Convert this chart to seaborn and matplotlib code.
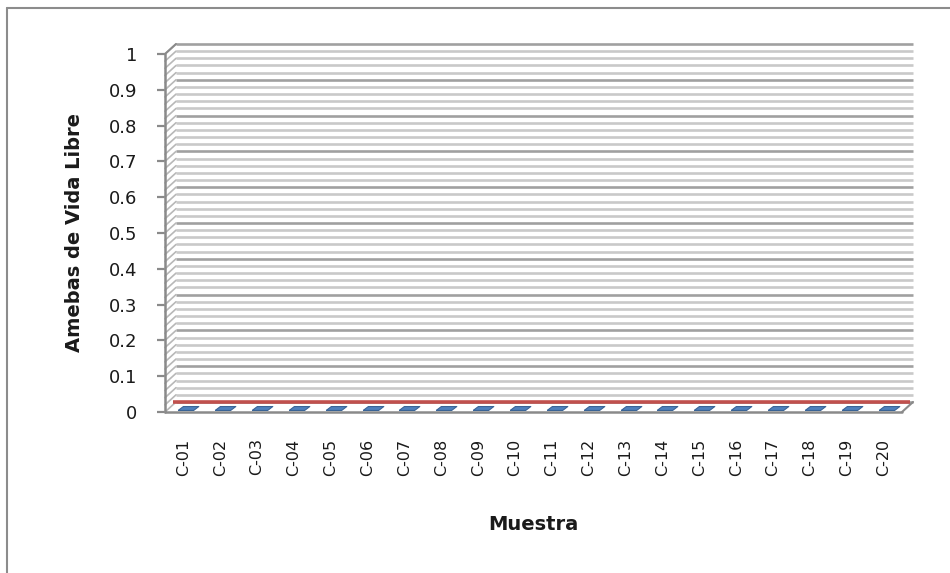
import matplotlib
matplotlib.use("Agg")
import matplotlib.pyplot as plt
from matplotlib.lines import Line2D
import numpy as np
import pandas as pd
import seaborn as sns

# Sample codes and measured free-living amoeba counts
muestras = ["C-01", "C-02", "C-03", "C-04", "C-05", "C-06", "C-07", "C-08", "C-09", "C-10",
            "C-11", "C-12", "C-13", "C-14", "C-15", "C-16", "C-17", "C-18", "C-19", "C-20"]
serie_frontal = [0, 0, 0, 0, 0, 0, 0, 0, 0, 0, 0, 0, 0, 0, 0, 0, 0, 0, 0, 0]
serie_fondo = [0, 0, 0, 0, 0, 0, 0, 0, 0, 0, 0, 0, 0, 0, 0, 0, 0, 0, 0, 0]
y_ticks = [0, 0.1, 0.2, 0.3, 0.4, 0.5, 0.6, 0.7, 0.8, 0.9, 1.0]
y_labels = ["0", "0.1", "0.2", "0.3", "0.4", "0.5", "0.6", "0.7", "0.8", "0.9", "1"]

df = pd.DataFrame({"Muestra": muestras, "frontal": serie_frontal, "fondo": serie_fondo})
df["pos"] = np.arange(len(df))

sns.set_theme(style="white")
plt.rcParams["font.family"] = ["DejaVu Sans"]

W, H = 950, 573
fig = plt.figure(figsize=(W / 100, H / 100), dpi=100)
x0, x1, y0, y1 = 165, 902, 412, 54
rect = [x0 / W, (H - y0) / H, (x1 - x0) / W, (y0 - y1) / H]
ax = fig.add_axes(rect)
n = len(muestras)
ax.set_xlim(-0.5, n - 0.5)
ax.set_ylim(0, 1)
for s in ax.spines.values():
    s.set_visible(False)

# depth of the 3D box, in data units (11 px right, 10 px up)
DX = 11 / ((x1 - x0) / n)
DY = 10 / (y0 - y1)
xl, xr = -0.5, n - 0.5

# back wall gridlines: minor every 0.02, major every 0.1
minor = np.round(np.arange(0, 1.0001, 0.02), 4)
for v in minor:
    major = abs(v * 10 - round(v * 10)) < 1e-6
    ax.add_line(Line2D([xl + DX, xr + DX], [v + DY, v + DY],
                       color="#a0a0a0" if major else "#c9c9c9",
                       lw=1.9, clip_on=False, zorder=1, solid_capstyle="butt"))
    # side wall hatching
    ax.add_line(Line2D([xl, xl + DX], [v, v + DY], color="#b8b8b8",
                       lw=1.2, clip_on=False, zorder=1))

# floor edges and front value axis
axis_col = "#8a8a8a"
ax.add_line(Line2D([xl, xr], [0, 0], color=axis_col, lw=1.8, clip_on=False, zorder=3))
ax.add_line(Line2D([xr, xr + DX], [0, DY], color=axis_col, lw=1.5, clip_on=False, zorder=3))
ax.add_line(Line2D([xl, xl], [0, 1], color=axis_col, lw=1.8, clip_on=False, zorder=3))
ax.add_line(Line2D([xl, xl + DX], [1, 1 + DY], color=axis_col, lw=1.5, clip_on=False, zorder=3))

# back series drawn as a ribbon along the rear of the floor
ax_back = fig.add_axes(rect, frameon=False, label="fondo")
sns.barplot(data=df, x="pos", y="fondo", ax=ax_back, width=1.0, native_scale=True,
            facecolor="#c0504d", edgecolor="#c0504d", linewidth=2.6, zorder=4)
ax_back.set_ylim(-DY, 1 - DY)
ax_back.set_xlim(-0.5 - DX * 0.75, n - 0.5 - DX * 0.75)
ax_back.axis("off")
for p in ax_back.patches:
    p.set_clip_on(False)
    p.set_joinstyle("bevel")
    p.set_capstyle("butt")

# front series: flat 3D bar tops
mk = [(-10, -1.9), (5, -1.9), (10, 1.9), (-5, 1.9), (-10, -1.9)]
ax_front = fig.add_axes(rect, frameon=False, label="frontal")
sns.scatterplot(data=df, x="pos", y="frontal", ax=ax_front, marker=mk, s=220,
                color="#4f81bd", edgecolor="#3a6496", linewidth=0.8, zorder=5,
                legend=False, clip_on=False)
ax_front.set_ylim(-DY * 0.45, 1 - DY * 0.45)
ax_front.set_xlim(-0.5 - DX * 0.45, n - 0.5 - DX * 0.45)
ax_front.axis("off")

ax.set_yticks(y_ticks)
ax.set_yticklabels(y_labels)
ax.set_xticks(df["pos"])
ax.set_xticklabels(muestras, rotation=90)
ax.tick_params(axis="y", length=6, width=1.6, color=axis_col, pad=14,
               labelsize=13, labelcolor="#1a1a1a", left=True)
ax.tick_params(axis="x", length=0, pad=19, labelsize=11.5, labelcolor="#1a1a1a")
ax.set_xlabel("Muestra", fontsize=14, fontweight="bold", labelpad=28, color="#1a1a1a")
ax.set_ylabel("Amebas de Vida Libre", fontsize=14, fontweight="bold", labelpad=18,
              color="#1a1a1a")

# chart frame
fig.add_artist(Line2D([7 / W, 1], [1 - 8 / H, 1 - 8 / H], color="#8c8c8c", lw=1.5,
                      transform=fig.transFigure))
fig.add_artist(Line2D([7 / W, 7 / W], [0, 1 - 8 / H], color="#8c8c8c", lw=1.5,
                      transform=fig.transFigure))

fig.savefig("out.png", dpi=100, facecolor="white")
